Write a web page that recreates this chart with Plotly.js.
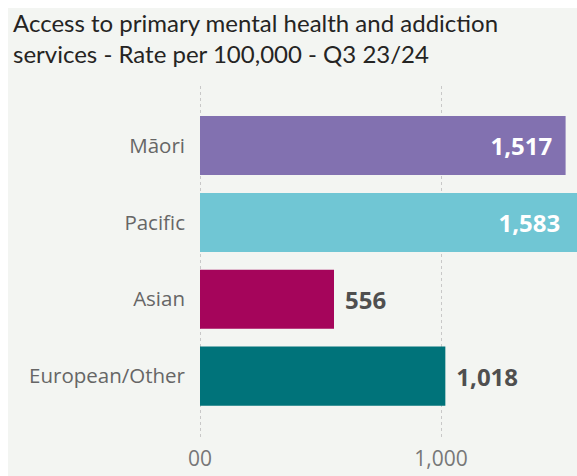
<!DOCTYPE html>
<html>
<head>
<meta charset="utf-8">
<script src="https://cdn.plot.ly/plotly-3.0.1.min.js"></script>
<style>
html, body { margin: 0; padding: 0; background: #ffffff; }
#chart { position: absolute; left: 8px; top: 8px; width: 569px; height: 468px; }
</style>
</head>
<body>
<div id="chart"></div>
<script>
const categories = ["Māori", "Pacific", "Asian", "European/Other"];
const rates = [1517, 1583, 556, 1018];
const barColors = ["#8271b0", "#70c6d4", "#a5055b", "#00737a"];
const labelPositions = ["inside", "inside", "outside", "outside"];
const tickValues = [0, 1000];
const tickLabels = ["00", "1,000"];
const chartTitle = "Access to primary mental health and addiction<br>services - Rate per 100,000 - Q3 23/24";

const labelTemplates = ["%{x:,.0f}\u2009\u2009\u200A", "%{x:,.0f}\u2009\u2009\u2009\u2009\u200A", "\u2009\u2009%{x:,.0f}", "\u2009\u2009%{x:,.0f}"];

const trace = {
  type: "bar",
  orientation: "h",
  y: categories,
  x: rates,
  marker: { color: barColors },
  textposition: labelPositions,
  texttemplate: labelTemplates,
  insidetextanchor: "end",
  insidetextfont: { family: "Open Sans", size: 24, color: "#ffffff", weight: 700 },
  outsidetextfont: { family: "Open Sans", size: 24, color: "#4f4f4f", weight: 700 },
  constraintext: "none",
  cliponaxis: true,
  hoverinfo: "none"
};

const layout = {
  width: 569,
  height: 468,
  paper_bgcolor: "#f3f5f2",
  plot_bgcolor: "#f3f5f2",
  margin: { l: 190, r: 0, t: 78, b: 38, pad: 0 },
  showlegend: false,
  bargap: 0.232,
  title: {
    text: chartTitle,
    font: { family: "Lato", size: 24, color: "#252423" },
    xref: "container", yref: "container",
    x: 5 / 569, xanchor: "left",
    y: 1 - 24 / 468, yanchor: "top"
  },
  xaxis: {
    range: [-8.3, 1564.3],
    tickvals: tickValues,
    ticktext: tickLabels,
    showgrid: true,
    gridcolor: "#c8c8c8",
    griddash: "dot",
    gridwidth: 1,
    zeroline: false,
    showline: false,
    ticks: "",
    ticklabelstandoff: 6,
    tickfont: { family: "Open Sans", size: 21, color: "#777777" },
    fixedrange: true
  },
  yaxis: {
    type: "category",
    range: [3.805, -0.775],
    showgrid: false,
    zeroline: false,
    showline: false,
    ticks: "",
    ticklabelstandoff: 12,
    tickfont: { family: "Open Sans", size: 20.5, color: "#666666" },
    fixedrange: true
  }
};

Plotly.newPlot("chart", [trace], layout, { displayModeBar: false, staticPlot: true });
</script>
</body>
</html>
